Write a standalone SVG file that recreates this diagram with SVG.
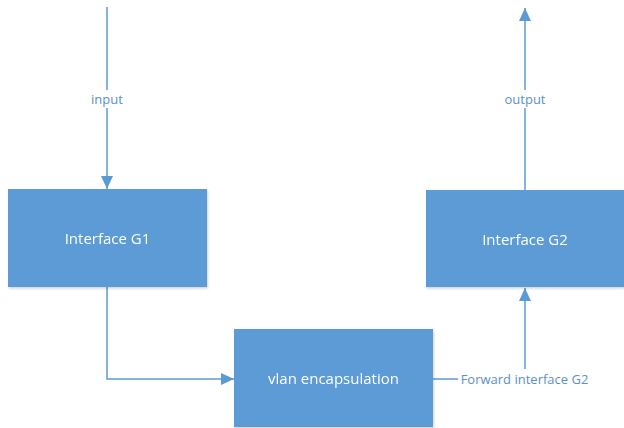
<svg xmlns="http://www.w3.org/2000/svg" width="624" height="428" viewBox="0 0 624 428">
  <style>
    .box { fill: #5B9BD5; }
    .box-text { fill: #FFFFFF; font-family: "Open Sans", "Liberation Sans", sans-serif; font-size: 15px; text-anchor: middle; dominant-baseline: central; }
    .wire { fill: none; stroke: #5B9BD5; stroke-width: 1.5; }
    .lbl-bg { fill: #FFFFFF; }
    .lbl { fill: #5B8FC8; font-family: "Open Sans", "Liberation Sans", sans-serif; font-size: 13px; text-anchor: middle; dominant-baseline: central; }
  </style>
  <defs>
    <marker id="arrow" viewBox="0 0 13 12" refX="13" refY="6" markerWidth="13" markerHeight="12" markerUnits="userSpaceOnUse" orient="auto">
      <path d="M0,0 L13,6 L0,12 Z" fill="#5B9BD5"/>
    </marker>
    <filter id="shadow" x="-5%" y="-5%" width="115%" height="115%">
      <feDropShadow dx="1" dy="1.5" stdDeviation="1.2" flood-color="#000" flood-opacity="0.18"/>
    </filter>
  </defs>
  <rect width="624" height="428" fill="#FFFFFF"/>

  <g id="connectors">
    <!-- input into G1 -->
    <line class="wire" x1="107" y1="7" x2="107" y2="189" marker-end="url(#arrow)"/>
    <!-- G1 to vlan encapsulation -->
    <path class="wire" d="M107,287 V379 H234" marker-end="url(#arrow)"/>
    <!-- vlan encapsulation to G2 -->
    <path class="wire" d="M433,379 H525 V288" marker-end="url(#arrow)"/>
    <!-- G2 output -->
    <line class="wire" x1="525" y1="190" x2="525" y2="8" marker-end="url(#arrow)"/>
  </g>

  <g id="labels">
    <rect class="lbl-bg" x="88" y="90" width="38" height="18"/>
    <text class="lbl" x="107" y="99">input</text>
    <rect class="lbl-bg" x="500" y="90" width="50" height="18"/>
    <text class="lbl" x="525" y="99">output</text>
    <rect class="lbl-bg" x="458" y="369" width="134" height="19"/>
    <text class="lbl" x="524.5" y="378.5">Forward interface G2</text>
  </g>

  <g id="g1" filter="url(#shadow)">
    <rect class="box" x="8" y="189" width="199" height="98"/>
    <text class="box-text" x="107.5" y="238">Interface G1</text>
  </g>

  <g id="g2" filter="url(#shadow)">
    <rect class="box" x="426" y="190" width="198" height="97"/>
    <text class="box-text" x="525" y="238.5">Interface G2</text>
  </g>

  <g id="vlan" filter="url(#shadow)">
    <rect class="box" x="234" y="329" width="199" height="98"/>
    <text class="box-text" x="333.5" y="378">vlan encapsulation</text>
  </g>
</svg>
